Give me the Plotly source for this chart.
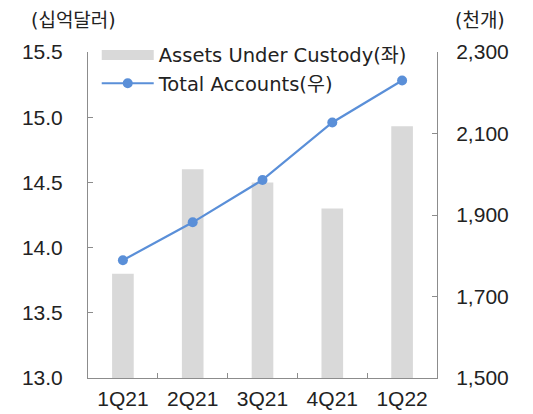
import plotly.graph_objects as go

quarters = ["1Q21", "2Q21", "3Q21", "4Q21", "1Q22"]
assets_under_custody = [13.8, 14.6, 14.5, 14.3, 14.93]   # 십억달러
total_accounts = [1789, 1882, 1986, 2127, 2230]          # 천개

left_ticks = [13.0, 13.5, 14.0, 14.5, 15.0, 15.5]
left_labels = ["13.0", "13.5", "14.0", "14.5", "15.0", "15.5"]
right_ticks = [1500, 1700, 1900, 2100, 2300]
right_labels = ["1,500", "1,700", "1,900", "2,100", "2,300"]

TICK_FONT = "Liberation Sans, Noto Sans CJK KR, sans-serif"
LEGEND_FONT = "DejaVu Sans, Noto Sans CJK KR, sans-serif"
AXIS_GRAY = "#8C8C8C"
BAR_GRAY = "#D9D9D9"
LINE_BLUE = "#5A8FD8"
TEXT = "#222222"

fig = go.Figure()

# custody bars on the left axis; their legend key is drawn as a wide flat swatch
fig.add_trace(go.Bar(
    x=quarters, y=assets_under_custody, name="Assets Under Custody(좌)",
    marker=dict(color=BAR_GRAY, line=dict(width=0)),
    width=0.31, yaxis="y", showlegend=False,
))
fig.add_trace(go.Scatter(
    x=[None], y=[None], name="Assets Under Custody(좌)",
    mode="lines", line=dict(color=BAR_GRAY, width=10),
    hoverinfo="skip",
))

# account count line on the right axis
fig.add_trace(go.Scatter(
    x=quarters, y=total_accounts, name="Total Accounts(우)",
    mode="lines+markers",
    line=dict(color=LINE_BLUE, width=2.2),
    marker=dict(color=LINE_BLUE, size=10),
    yaxis="y2",
))

fig.update_layout(
    width=533, height=414,
    margin=dict(l=88, r=96, t=52, b=36),
    paper_bgcolor="white", plot_bgcolor="white",
    font=dict(family=TICK_FONT, size=21, color=TEXT),
    showlegend=True,
    legend=dict(
        x=0.025, y=1.05, xanchor="left", yanchor="top",
        bgcolor="rgba(0,0,0,0)", font=dict(family=LEGEND_FONT, size=19.5, color=TEXT),
        itemwidth=52, traceorder="normal",
    ),
    xaxis=dict(
        type="category", showline=True, linecolor=AXIS_GRAY, linewidth=1,
        ticks="inside", tickson="boundaries", ticklen=5, tickcolor=AXIS_GRAY,
        showgrid=False, tickfont=dict(size=21), range=[-0.5, 4.5],
        ticklabelstandoff=2, automargin=False,
    ),
    yaxis=dict(
        range=[13.0, 15.5], tickvals=left_ticks, ticktext=left_labels,
        showline=True, linecolor=AXIS_GRAY, linewidth=1,
        ticks="inside", ticklen=5, tickcolor=AXIS_GRAY,
        showgrid=False, zeroline=False, tickfont=dict(size=21),
        ticklabelstandoff=20, automargin=False,
    ),
    yaxis2=dict(
        range=[1500, 2300], tickvals=right_ticks, ticktext=right_labels,
        overlaying="y", side="right",
        showline=True, linecolor=AXIS_GRAY, linewidth=1,
        ticks="inside", ticklen=5, tickcolor=AXIS_GRAY,
        showgrid=False, zeroline=False, tickfont=dict(size=21),
        ticklabelstandoff=14, automargin=False,
    ),
    annotations=[
        dict(text="(십억달러)", xref="paper", yref="paper", x=-0.17, y=1.098,
             xanchor="left", yanchor="middle", showarrow=False,
             font=dict(family=LEGEND_FONT, size=19, color=TEXT)),
        dict(text="(천개)", xref="paper", yref="paper", x=1.046, y=1.098,
             xanchor="left", yanchor="middle", showarrow=False,
             font=dict(family=LEGEND_FONT, size=19, color=TEXT)),
    ],
)

fig.write_html("out.html")
